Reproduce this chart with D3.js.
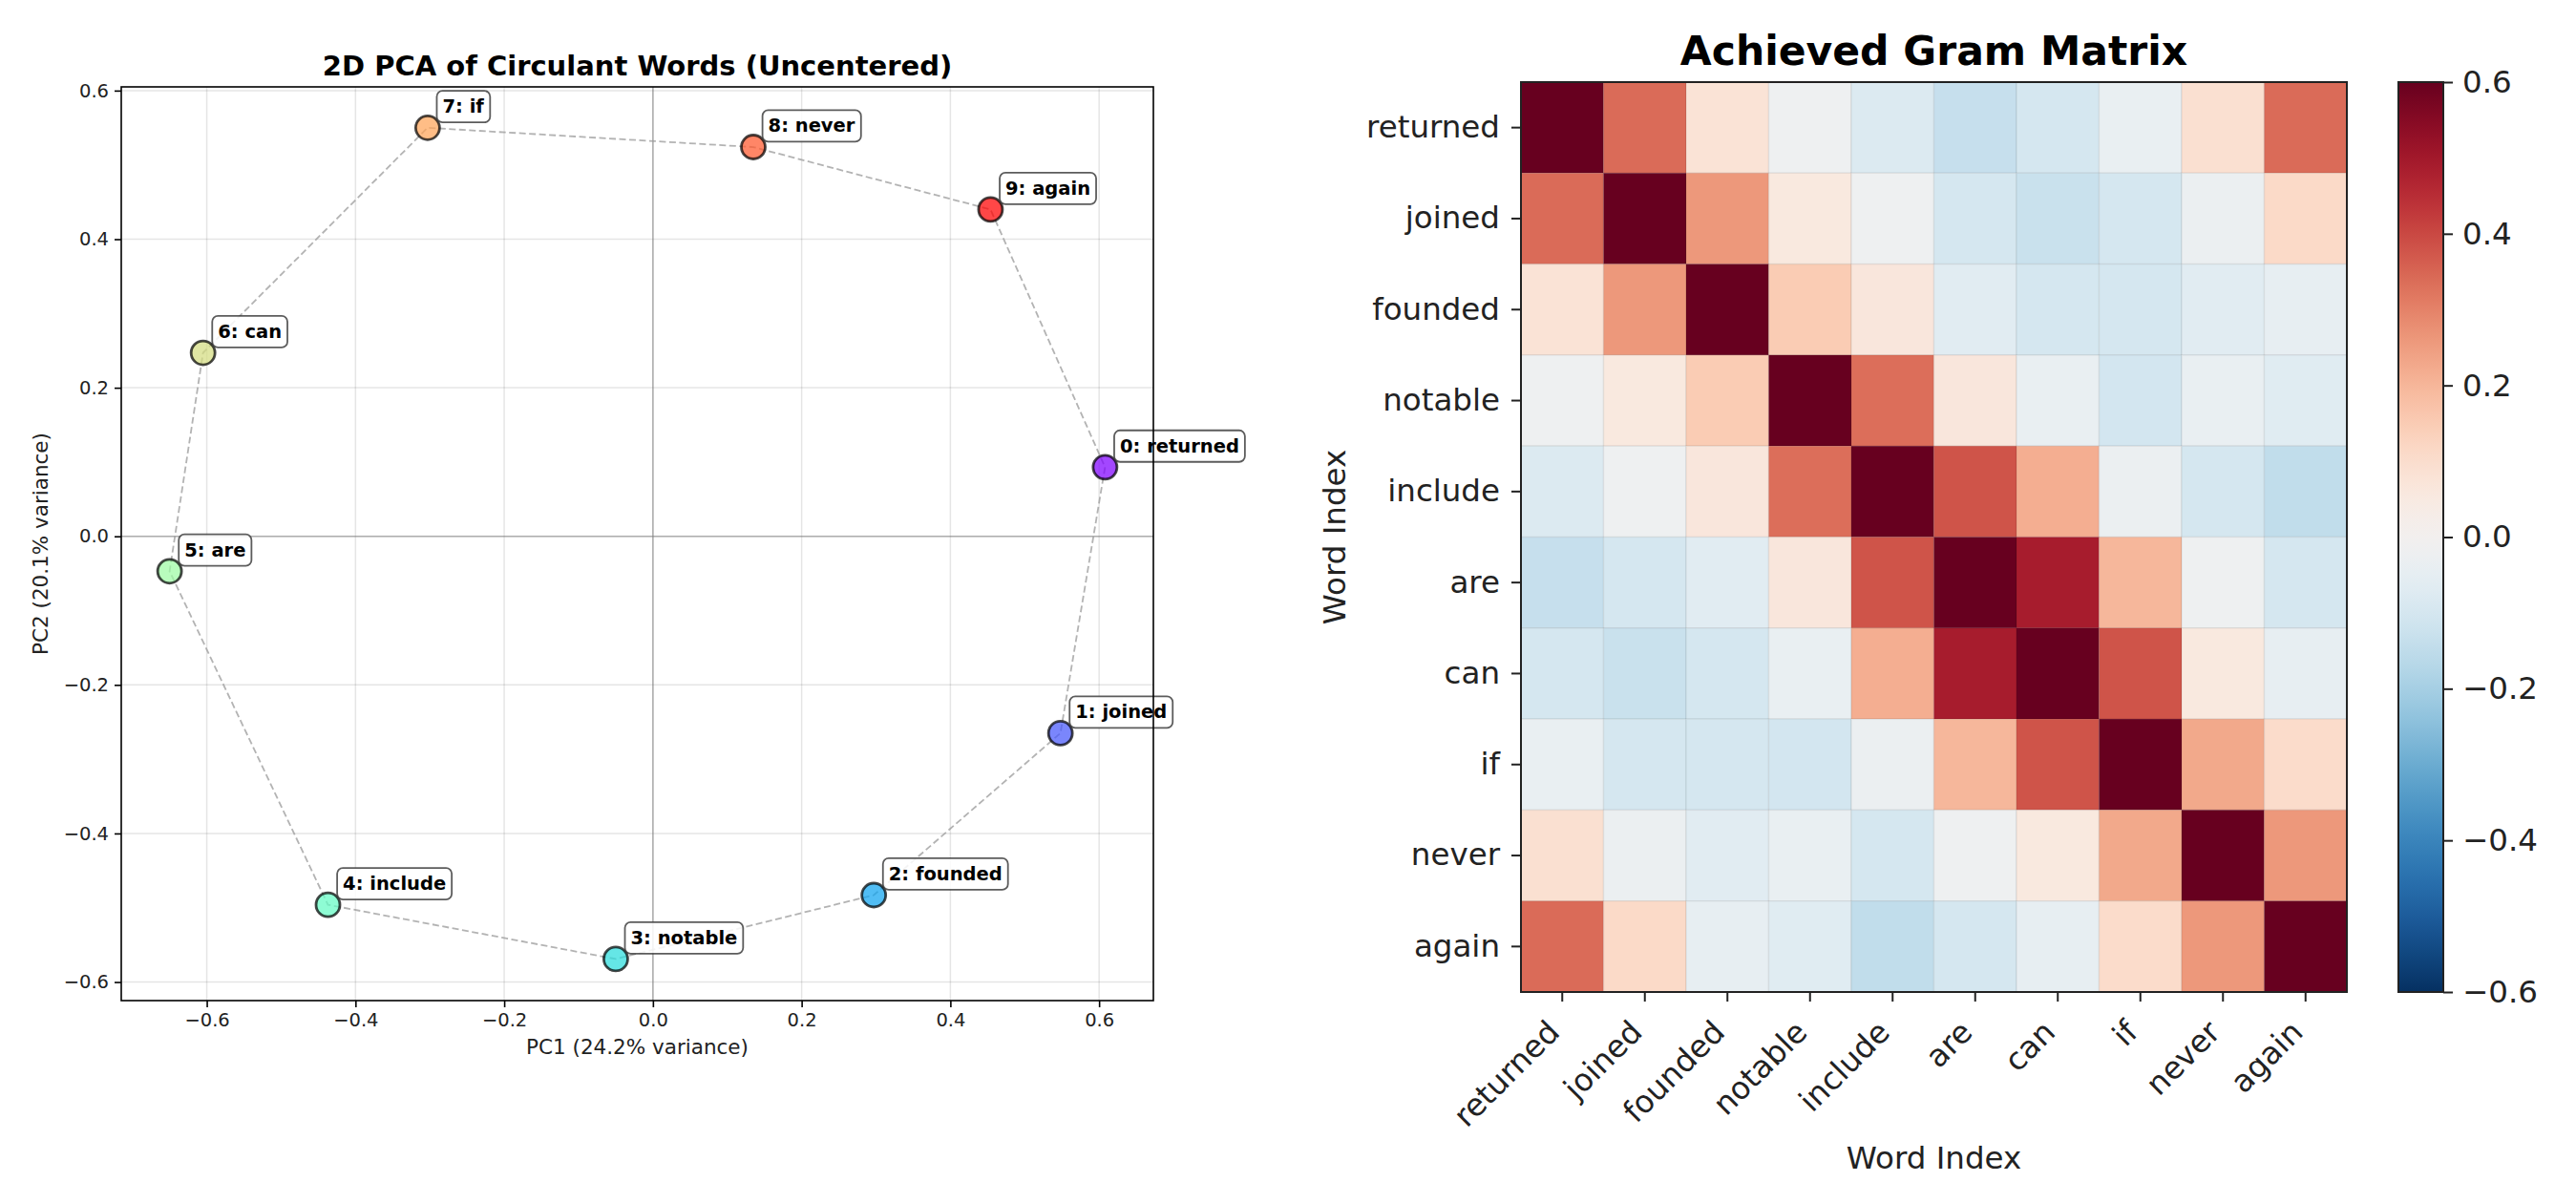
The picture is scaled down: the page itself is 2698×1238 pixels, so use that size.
<!DOCTYPE html>
<html>
<head>
<meta charset="utf-8">
<script src="https://cdn.jsdelivr.net/npm/d3@7"></script>
<style>
  html, body { margin: 0; padding: 0; background: #fff; }
  svg { display: block; }
  text { font-family: "DejaVu Sans", sans-serif; }
</style>
</head>
<body>
<svg id="chart" width="2698" height="1238"></svg>
<script>
// ---------- data ----------
const words = ["returned","joined","founded","notable","include","are","can","if","never","again"];
const pc1 = [0.608, 0.548, 0.297, -0.050, -0.437, -0.650, -0.605, -0.303, 0.135, 0.454];
const pc2 = [0.093, -0.265, -0.483, -0.569, -0.496, -0.047, 0.247, 0.550, 0.524, 0.440];
const pcaTicks = [-0.6, -0.4, -0.2, 0.0, 0.2, 0.4, 0.6];
const cbarTicks = [-0.6, -0.4, -0.2, 0.0, 0.2, 0.4, 0.6];
const gramRows = [
  [ 1.00,  0.34,  0.08, -0.02, -0.08, -0.135, -0.10, -0.04,  0.09,  0.34],
  [ 0.34,  1.00,  0.26,  0.055, -0.02, -0.10, -0.13, -0.10, -0.03,  0.11],
  [ 0.08,  0.26,  1.00,  0.15,  0.065, -0.066, -0.10, -0.10, -0.066, -0.045],
  [-0.02,  0.055, 0.15,  1.00,  0.335, 0.065, -0.038, -0.105, -0.038, -0.069],
  [-0.08, -0.02,  0.065, 0.335, 1.00,  0.38,  0.216, -0.03, -0.10, -0.147],
  [-0.135,-0.10, -0.066, 0.065, 0.38,  1.00,  0.49,  0.198, -0.02, -0.10],
  [-0.10, -0.13, -0.10, -0.038, 0.216, 0.49,  1.00,  0.38,  0.055, -0.045],
  [-0.04, -0.10, -0.10, -0.105, -0.03, 0.198, 0.38,  1.00,  0.227, 0.105],
  [ 0.09, -0.03, -0.066, -0.038, -0.10, -0.02, 0.055, 0.227, 1.00,  0.26],
  [ 0.34,  0.11, -0.045, -0.069, -0.147, -0.10, -0.045, 0.105, 0.26,  1.00]
];
const pcaTitle = "2D PCA of Circulant Words (Uncentered)";
const pcaXLabel = "PC1 (24.2% variance)";
const pcaYLabel = "PC2 (20.1% variance)";
const gramTitle = "Achieved Gram Matrix";
const gramAxisLabel = "Word Index";

// ---------- helpers ----------
const svg = d3.select("#chart");
const fmt = v => d3.format(".1f")(v).replace("-", "\u2212");
function rainbow(t) { // matplotlib 'rainbow'
  const r = Math.min(1, Math.abs(2 * t - 0.5));
  const g = Math.sin(Math.PI * t);
  const b = Math.cos(Math.PI * t / 2);
  return d3.rgb(r * 255, g * 255, b * 255).formatHex();
}

// ================= LEFT: PCA scatter =================
const L = { x0: 127, x1: 1208, y0: 91, y1: 1048 };
const xs = d3.scaleLinear().domain([-0.715, 0.673]).range([L.x0, L.x1]);
const ys = d3.scaleLinear().domain([-0.625, 0.605]).range([L.y1, L.y0]);
const gL = svg.append("g");

// grid
gL.append("g").selectAll("line").data(pcaTicks).join("line")
  .attr("x1", d => xs(d)).attr("x2", d => xs(d)).attr("y1", L.y0).attr("y2", L.y1)
  .attr("stroke", "#000").attr("stroke-opacity", 0.1).attr("stroke-width", 1.5);
gL.append("g").selectAll("line").data(pcaTicks).join("line")
  .attr("y1", d => ys(d)).attr("y2", d => ys(d)).attr("x1", L.x0).attr("x2", L.x1)
  .attr("stroke", "#000").attr("stroke-opacity", 0.1).attr("stroke-width", 1.5);
// zero lines
gL.append("line").attr("x1", xs(0)).attr("x2", xs(0)).attr("y1", L.y0).attr("y2", L.y1)
  .attr("stroke", "#808080").attr("stroke-opacity", 0.55).attr("stroke-width", 1.6);
gL.append("line").attr("y1", ys(0)).attr("y2", ys(0)).attr("x1", L.x0).attr("x2", L.x1)
  .attr("stroke", "#808080").attr("stroke-opacity", 0.55).attr("stroke-width", 1.6);

// closed dashed polygon
const idx = d3.range(words.length);
const loop = idx.concat([0]);
gL.append("path")
  .attr("d", d3.line().x(i => xs(pc1[i])).y(i => ys(pc2[i]))(loop))
  .attr("fill", "none").attr("stroke", "#999").attr("stroke-opacity", 0.75)
  .attr("stroke-width", 1.8).attr("stroke-dasharray", "7,3.5");

// points
gL.append("g").selectAll("circle").data(idx).join("circle")
  .attr("cx", i => xs(pc1[i])).attr("cy", i => ys(pc2[i])).attr("r", 12.5)
  .attr("fill", i => rainbow(i / (words.length - 1))).attr("fill-opacity", 0.72)
  .attr("stroke", "#000").attr("stroke-opacity", 0.72).attr("stroke-width", 2.8);

// annotations
const ann = gL.append("g").selectAll("g").data(idx).join("g")
  .attr("transform", i => `translate(${xs(pc1[i]) + 15.6},${ys(pc2[i]) - 15.6})`);
ann.append("text").text(i => `${i}: ${words[i]}`)
  .attr("font-size", 19.5).attr("font-weight", "bold").attr("fill", "#000");
ann.each(function () {
  const g = d3.select(this);
  const bb = g.select("text").node().getBBox();
  const pad = 6;
  g.insert("rect", "text")
    .attr("x", bb.x - pad).attr("y", bb.y - pad + 1)
    .attr("width", bb.width + 2 * pad).attr("height", bb.height + 2 * pad - 2)
    .attr("rx", 6).attr("ry", 6)
    .attr("fill", "#fff").attr("fill-opacity", 0.85)
    .attr("stroke", "#333").attr("stroke-opacity", 0.8).attr("stroke-width", 1.8);
});

// frame
gL.append("rect").attr("x", L.x0).attr("y", L.y0).attr("width", L.x1 - L.x0).attr("height", L.y1 - L.y0)
  .attr("fill", "none").attr("stroke", "#000").attr("stroke-width", 1.6);

// axes
const xAxisL = d3.axisBottom(xs).tickValues(pcaTicks).tickFormat(fmt).tickSize(7).tickPadding(6);
const yAxisL = d3.axisLeft(ys).tickValues(pcaTicks).tickFormat(fmt).tickSize(7).tickPadding(6);
const gx = gL.append("g").attr("transform", `translate(0,${L.y1})`).call(xAxisL);
const gy = gL.append("g").attr("transform", `translate(${L.x0},0)`).call(yAxisL);
[gx, gy].forEach(a => {
  a.select(".domain").remove();
  a.selectAll(".tick line").attr("stroke", "#000").attr("stroke-width", 1.6);
  a.selectAll(".tick text").attr("font-size", 19.5).attr("fill", "#222")
    .attr("font-family", "DejaVu Sans");
});

gL.append("text").attr("x", (L.x0 + L.x1) / 2).attr("y", 79).attr("text-anchor", "middle")
  .attr("font-size", 29).attr("font-weight", "bold").text(pcaTitle);
gL.append("text").attr("x", (L.x0 + L.x1) / 2).attr("y", 1104).attr("text-anchor", "middle")
  .attr("font-size", 21.5).attr("fill", "#222").text(pcaXLabel);
gL.append("text").attr("transform", `translate(50,${(L.y0 + L.y1) / 2}) rotate(-90)`)
  .attr("text-anchor", "middle").attr("font-size", 21.5).attr("fill", "#222").text(pcaYLabel);

// ================= RIGHT: Gram heatmap =================
const H = { x0: 1593, x1: 2458, y0: 86, y1: 1039 };
const hx = d3.scaleBand().domain(words).range([H.x0, H.x1]);
const hy = d3.scaleBand().domain(words).range([H.y0, H.y1]);
const vmin = -0.6, vmax = 0.6;
const cnorm = d3.scaleLinear().domain([vmin, vmax]).range([1, 0]).clamp(true);
const cmap = v => d3.interpolateRdBu(cnorm(v));
const gR = svg.append("g");

const cells = [];
gramRows.forEach((row, r) => row.forEach((v, c) => cells.push({ r, c, v })));
gR.append("g").selectAll("rect").data(cells).join("rect")
  .attr("x", d => hx(words[d.c])).attr("y", d => hy(words[d.r]))
  .attr("width", hx.bandwidth()).attr("height", hy.bandwidth())
  .attr("fill", d => cmap(d.v))
  .attr("stroke", "#000").attr("stroke-opacity", 0.06).attr("stroke-width", 1.5);

gR.append("rect").attr("x", H.x0).attr("y", H.y0).attr("width", H.x1 - H.x0).attr("height", H.y1 - H.y0)
  .attr("fill", "none").attr("stroke", "#222").attr("stroke-width", 2);

// y axis
const yAxisR = d3.axisLeft(hy).tickSize(10).tickPadding(12);
const gyR = gR.append("g").attr("transform", `translate(${H.x0},0)`).call(yAxisR);
gyR.select(".domain").remove();
gyR.selectAll(".tick line").attr("stroke", "#222").attr("stroke-width", 2);
gyR.selectAll(".tick text").attr("font-size", 32.5).attr("fill", "#222").attr("font-family", "DejaVu Sans");

// x axis (rotated labels)
const xAxisR = d3.axisBottom(hx).tickSize(10).tickFormat("");
const gxR = gR.append("g").attr("transform", `translate(0,${H.y1})`).call(xAxisR);
gxR.select(".domain").remove();
gxR.selectAll(".tick line").attr("stroke", "#222").attr("stroke-width", 2);
gR.append("g").selectAll("text").data(words).join("text")
  .attr("transform", w => `translate(${hx(w) + hx.bandwidth() / 2 - 1},${H.y1 + 44}) rotate(-45)`)
  .attr("text-anchor", "end").attr("font-size", 32.5).attr("fill", "#222").text(w => w);

gR.append("text").attr("x", (H.x0 + H.x1) / 2).attr("y", 68).attr("text-anchor", "middle")
  .attr("font-size", 42.5).attr("font-weight", "bold").text(gramTitle);
gR.append("text").attr("x", (H.x0 + H.x1) / 2).attr("y", 1224).attr("text-anchor", "middle")
  .attr("font-size", 32.5).attr("fill", "#222").text(gramAxisLabel);
gR.append("text").attr("transform", `translate(1409,${(H.y0 + H.y1) / 2}) rotate(-90)`)
  .attr("text-anchor", "middle").attr("font-size", 32.5).attr("fill", "#222").text(gramAxisLabel);

// colorbar
const C = { x0: 2512, x1: 2559, y0: 86, y1: 1039 };
const cs = d3.scaleLinear().domain([vmin, vmax]).range([C.y1, C.y0]);
const defs = svg.append("defs");
const grad = defs.append("linearGradient").attr("id", "cbgrad")
  .attr("x1", 0).attr("y1", 1).attr("x2", 0).attr("y2", 0);
d3.range(0, 1.0001, 0.02).forEach(t => {
  grad.append("stop").attr("offset", t).attr("stop-color", cmap(vmin + t * (vmax - vmin)));
});
gR.append("rect").attr("x", C.x0).attr("y", C.y0).attr("width", C.x1 - C.x0).attr("height", C.y1 - C.y0)
  .attr("fill", "url(#cbgrad)").attr("stroke", "#222").attr("stroke-width", 2);
const cAxis = d3.axisRight(cs).tickValues(cbarTicks).tickFormat(fmt).tickSize(10).tickPadding(10);
const gc = gR.append("g").attr("transform", `translate(${C.x1},0)`).call(cAxis);
gc.select(".domain").remove();
gc.selectAll(".tick line").attr("stroke", "#222").attr("stroke-width", 2);
gc.selectAll(".tick text").attr("font-size", 32.5).attr("fill", "#222").attr("font-family", "DejaVu Sans");
</script>
</body>
</html>
